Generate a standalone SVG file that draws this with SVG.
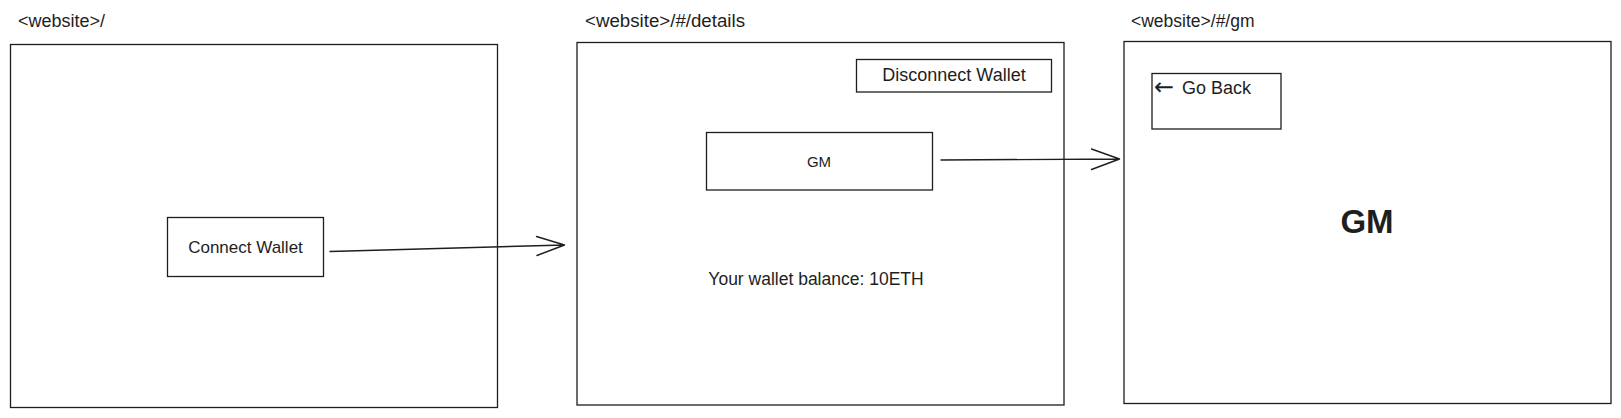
<svg xmlns="http://www.w3.org/2000/svg" width="1621" height="418" viewBox="0 0 1621 418">
<style>
.box{fill:none;stroke:#1e1e1e;stroke-width:1.3}
.t{font-family:"Liberation Sans",Arial,sans-serif;fill:#1e1e1e}
.ttl{font-size:18px}
.lbl{font-size:17px;text-anchor:middle;dominant-baseline:central}
.con{fill:none;stroke:#1e1e1e;stroke-width:1.4;stroke-linecap:round;stroke-linejoin:round}
</style>
<rect width="1621" height="418" fill="#ffffff"/>
<g id="page-home">
<text class="t ttl" x="18" y="27">&lt;website&gt;/</text>
<rect class="box" x="10.5" y="44.5" width="487" height="363"/>
</g>
<g id="btn-connect">
<rect class="box" x="167.5" y="217.5" width="156" height="59"/>
<text class="t lbl" x="245.5" y="247">Connect Wallet</text>
</g>
<g id="page-details">
<text class="t ttl" x="585" y="27" style="font-size:18.7px">&lt;website&gt;/#/details</text>
<rect class="box" x="577" y="42.5" width="487" height="362.5"/>
</g>
<g id="btn-disconnect">
<rect class="box" x="856.5" y="59.5" width="195" height="32.5"/>
<text class="t lbl" x="954" y="75" style="font-size:18px">Disconnect Wallet</text>
</g>
<g id="btn-gm">
<rect class="box" x="706.5" y="132.5" width="226" height="57.5"/>
<text class="t lbl" x="819" y="161.5" style="font-size:15px">GM</text>
</g>
<g id="balance">
<text class="t lbl" x="816" y="279" style="font-size:17.5px">Your wallet balance: 10ETH</text>
</g>
<g id="page-gm">
<text class="t ttl" x="1131" y="27" style="font-size:17.5px">&lt;website&gt;/#/gm</text>
<rect class="box" x="1124" y="41.5" width="487" height="362"/>
</g>
<g id="btn-back">
<rect class="box" x="1152" y="73.5" width="129" height="55.5"/>
<text class="t" x="1154" y="94" style="font-size:18px"><tspan style="font-family:'DejaVu Sans',sans-serif;font-size:24px" dy="1">←</tspan><tspan x="1182" dy="-1">Go Back</tspan></text>
</g>
<g id="gm-heading">
<text class="t lbl" x="1367" y="221" style="font-size:33px;font-weight:bold">GM</text>
</g>
<g id="connectors">
<path class="con" d="M330,251.5 L564.5,245 M536.5,236.5 L564.5,245 L537,255.5"/>
<path class="con" d="M941,160 L1119.5,159 M1091.5,149 L1119.5,159 L1091.5,169.5"/>
</g>
</svg>
